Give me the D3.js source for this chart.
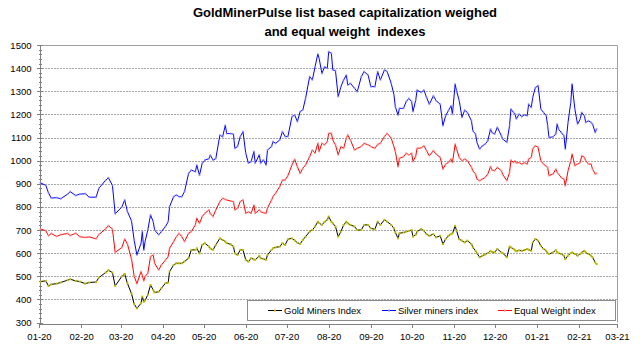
<!DOCTYPE html>
<html>
<head>
<meta charset="utf-8">
<script src="https://cdn.jsdelivr.net/npm/d3@7"></script>
<style>
  body { margin: 0; background: #fff; }
  svg { display: block; font-family: "Liberation Sans", Arial, sans-serif; }
  .axis path, .axis line { stroke: #808080; shape-rendering: crispEdges; }
  .axis text { fill: #000; font-size: 9.5px; }
</style>
</head>
<body>
<div id="chart"></div>
<script>
// daily-ish readings (yy-mm-dd)
var dateLabels = [
  "20-01-02","20-01-06","20-01-08","20-01-10","20-01-14","20-01-17","20-01-22","20-01-24","20-01-28","20-01-31",
  "20-02-04","20-02-07","20-02-12","20-02-14","20-02-19","20-02-21","20-02-24","20-02-26","20-03-02","20-03-04",
  "20-03-06","20-03-09","20-03-11","20-03-13","20-03-16","20-03-17","20-03-18","20-03-19","20-03-21","20-03-23",
  "20-03-25","20-03-26","20-03-29","20-03-31","20-04-03","20-04-05","20-04-06","20-04-09","20-04-11","20-04-13",
  "20-04-15","20-04-17","20-04-20","20-04-22","20-04-25","20-04-26","20-04-28","20-04-30","20-05-02","20-05-05",
  "20-05-06","20-05-08","20-05-10","20-05-13","20-05-15","20-05-17","20-05-18","20-05-21","20-05-23","20-05-24",
  "20-05-26","20-05-28","20-05-30","20-06-01","20-06-03","20-06-05","20-06-07","20-06-08","20-06-11","20-06-12",
  "20-06-14","20-06-16","20-06-17","20-06-20","20-06-21","20-06-23","20-06-26","20-06-28","20-06-30","20-07-02",
  "20-07-05","20-07-07","20-07-09","20-07-11","20-07-13","20-07-15","20-07-18","20-07-20","20-07-22","20-07-24",
  "20-07-25","20-07-27","20-07-29","20-07-31","20-08-01","20-08-03","20-08-04","20-08-06","20-08-08","20-08-10",
  "20-08-12","20-08-14","20-08-15","20-08-17","20-08-20","20-08-22","20-08-25","20-08-27","20-08-30","20-09-01",
  "20-09-04","20-09-06","20-09-08","20-09-11","20-09-13","20-09-16","20-09-18","20-09-19","20-09-21","20-09-22",
  "20-09-25","20-09-27","20-09-29","20-10-01","20-10-02","20-10-04","20-10-05","20-10-08","20-10-10","20-10-12",
  "20-10-14","20-10-17","20-10-19","20-10-22","20-10-24","20-10-26","20-10-28","20-10-30","20-10-31","20-11-02",
  "20-11-03","20-11-05","20-11-07","20-11-09","20-11-11","20-11-14","20-11-15","20-11-17","20-11-18","20-11-20",
  "20-11-22","20-11-24","20-11-26","20-11-28","20-11-29","20-12-01","20-12-03","20-12-06","20-12-07","20-12-10",
  "20-12-12","20-12-13","20-12-15","20-12-16","20-12-17","20-12-19","20-12-21","20-12-23","20-12-25","20-12-26",
  "20-12-28","20-12-29","20-12-31","21-01-02","21-01-04","21-01-06","21-01-08","21-01-09","21-01-10","21-01-13",
  "21-01-15","21-01-16","21-01-17","21-01-19","21-01-21","21-01-22","21-01-24","21-01-26","21-01-27","21-01-29",
  "21-01-31","21-02-02","21-02-03","21-02-05","21-02-06","21-02-08","21-02-10","21-02-11","21-02-13","21-02-14"
];

var goldIndex = [
  477,480,458,465,468,473,483,487,480,477,
  468,473,475,494,516,526,516,458,500,510,
  470,425,380,361,383,412,390,395,420,462,
  441,430,433,448,470,472,520,549,556,556,
  556,564,578,614,614,621,599,636,643,628,
  620,614,636,664,657,650,643,638,628,599,
  592,614,614,571,563,578,573,571,588,578,
  575,571,592,614,621,625,628,643,635,660,
  664,655,645,640,657,671,693,700,715,736,
  730,722,735,744,758,736,729,715,671,693,
  722,736,729,722,715,700,700,722,722,707,
  703,736,722,744,736,722,707,690,664,686,
  689,693,696,700,671,680,693,704,697,682,
  675,682,668,675,639,661,675,682,685,718,
  697,660,654,646,654,639,625,610,600,582,
  589,594,600,610,605,603,618,603,600,582,
  628,625,618,612,608,612,610,613,618,615,
  610,646,661,654,632,618,610,599,596,603,
  613,605,600,596,589,574,589,600,603,596,
  589,596,603,610,603,596,589,582,560,553
];

var silverIndex = [
  904,893,860,838,840,835,855,866,849,855,
  857,842,842,880,915,926,893,770,800,830,
  780,740,655,592,642,693,613,650,700,765,
  736,700,679,693,715,736,801,844,851,844,
  844,866,945,959,952,981,937,988,1002,1009,
  1024,1002,1009,1110,1103,1153,1117,1117,1114,1053,
  1061,1104,1125,1032,989,996,1039,989,1025,989,
  1003,981,1046,1061,1082,1075,1089,1125,1104,1104,
  1190,1197,1169,1212,1219,1269,1363,1349,1406,1461,
  1442,1377,1406,1399,1471,1464,1392,1389,1277,1320,
  1349,1370,1327,1334,1313,1298,1363,1385,1370,1320,
  1320,1385,1349,1392,1385,1334,1284,1233,1197,1226,
  1226,1255,1269,1255,1212,1262,1305,1295,1305,1273,
  1244,1280,1259,1244,1151,1194,1216,1237,1201,1331,
  1302,1259,1187,1218,1208,1172,1129,1115,1079,1050,
  1064,1071,1086,1136,1122,1115,1144,1107,1093,1079,
  1151,1223,1208,1201,1180,1201,1190,1198,1194,1244,
  1230,1273,1316,1324,1223,1208,1194,1151,1100,1103,
  1115,1158,1136,1122,1107,1050,1165,1252,1331,1223,
  1158,1180,1208,1194,1165,1172,1165,1158,1122,1136
];

var equalIndex = [
  704,697,675,685,672,680,685,676,686,671,
  668,670,662,680,705,719,704,603,625,661,
  640,575,500,468,520,505,480,499,513,585,
  592,556,527,549,570,585,621,650,671,686,
  671,650,686,693,722,751,729,758,772,787,
  770,758,787,823,837,832,830,825,823,787,
  794,823,830,772,779,772,808,772,787,779,
  775,772,795,830,844,859,888,916,916,935,
  981,1006,974,945,967,981,1017,1046,1032,1075,
  1039,1075,1068,1082,1118,1118,1089,1068,1025,1061,
  1053,1097,1111,1089,1046,1053,1061,1075,1068,1061,
  1053,1070,1075,1104,1118,1097,1060,1040,974,1010,
  1017,1032,1025,1032,996,1020,1053,1055,1064,1043,
  1021,1043,1028,1014,963,985,992,1007,992,1071,
  1050,1014,999,1007,999,971,956,942,920,913,
  920,927,942,974,960,956,971,956,940,913,
  949,1002,992,999,990,992,985,992,985,1007,
  1014,1050,1064,1057,999,985,975,971,935,942,
  963,950,942,927,920,891,956,999,1028,978,
  985,992,1021,1014,999,985,985,963,942,945
];

var yTickValues = [300,400,500,600,700,800,900,1000,1100,1200,1300,1400,1500];
var seriesNames = ["Gold Miners Index", "Silver miners index", "Equal Weight index"];
var titleLines = ["GoldMinerPulse list based capitalization weighed", "and equal weight  indexes"];

var width = 640, height = 352;
var plotLeft = 39, plotRight = 617, plotTop = 45, plotBottom = 322.5;

var parseDate = d3.timeParse("%y-%m-%d");
var dates = dateLabels.map(parseDate);

var x = d3.scaleTime()
    .domain([new Date(2020, 0, 1), new Date(2021, 2, 1)])
    .range([plotLeft, plotRight]);
var y = d3.scaleLinear()
    .domain([300, 1500])
    .range([plotBottom, plotTop]);

var svg = d3.select("#chart").append("svg")
    .attr("width", width)
    .attr("height", height);

// title
svg.append("text")
    .attr("text-anchor", "middle")
    .attr("xml:space", "preserve")
    .style("font-size", "13px")
    .style("font-weight", "bold")
    .selectAll("tspan")
    .data(titleLines)
    .join("tspan")
        .attr("x", 345)
        .attr("y", (d, i) => 17 + i * 19)
        .text(d => d);

// gridlines
svg.append("g")
    .selectAll("line")
    .data(yTickValues.filter(v => v > 300 && v < 1500))
    .join("line")
        .attr("x1", plotLeft).attr("x2", plotRight)
        .attr("y1", d => Math.round(y(d)) + 0.5)
        .attr("y2", d => Math.round(y(d)) + 0.5)
        .attr("stroke", "#a6a6a6")
        .attr("stroke-dasharray", "2,1");

// plot border (top / right)
svg.append("path")
    .attr("d", "M" + plotLeft + "," + (plotTop + 0.5) + "H" + (plotRight + 0.5) + "V" + plotBottom)
    .attr("fill", "none")
    .attr("stroke", "#a0a0a0");

// minor ticks on y axis
svg.append("g")
    .selectAll("line")
    .data(d3.range(300, 1501, 20).filter(v => v % 100 != 0))
    .join("line")
        .attr("x1", plotLeft).attr("x2", plotLeft + 3)
        .attr("y1", d => Math.round(y(d)) + 0.5)
        .attr("y2", d => Math.round(y(d)) + 0.5)
        .attr("stroke", "#808080");

// y axis
var yAxis = svg.append("g")
    .attr("class", "axis")
    .attr("transform", "translate(" + (plotLeft + 0.5) + ",0)")
    .call(d3.axisLeft(y).tickValues(yTickValues).tickFormat(d3.format("d"))
        .tickSize(3).tickPadding(5).tickSizeOuter(0));
yAxis.selectAll(".tick line").attr("x2", 3).attr("x1", -3);

// x axis
var xAxis = svg.append("g")
    .attr("class", "axis")
    .attr("transform", "translate(0," + (Math.round(plotBottom) + 0.5) + ")")
    .call(d3.axisBottom(x)
        .tickValues(d3.timeMonth.range(new Date(2020, 0, 1), new Date(2021, 2, 2)))
        .tickFormat(d3.timeFormat("%m-%y"))
        .tickSize(4).tickPadding(6).tickSizeOuter(0));

// series
var series = [
    {name: seriesNames[0], values: goldIndex,   line: "#000000", marker: "#bebe00"},
    {name: seriesNames[1], values: silverIndex, line: "#0000ff", marker: "#8c8cff"},
    {name: seriesNames[2], values: equalIndex,  line: "#ff0000", marker: "#ff8c8c"}
];

var line = d3.line()
    .x((d, i) => x(dates[i]))
    .y(d => y(d));

series.slice().reverse().forEach(function(s) {
    var g = svg.append("g");
    g.append("path")
        .attr("d", line(s.values))
        .attr("fill", "none")
        .attr("stroke", s.line)
        .attr("stroke-width", 1);
    if (s.line == "#000000") {
        g.selectAll("rect")
            .data(s.values)
            .join("rect")
                .attr("x", (d, i) => x(dates[i]) - 1)
                .attr("y", d => y(d) - 1)
                .attr("width", 2).attr("height", 2)
                .attr("fill", s.marker);
    } else {
        g.selectAll("circle")
            .data(s.values)
            .join("circle")
                .attr("cx", (d, i) => x(dates[i]))
                .attr("cy", d => y(d))
                .attr("r", 1.1)
                .attr("fill", s.marker)
                .attr("opacity", 0.7);
    }
});

// legend
var legend = svg.append("g");
legend.append("rect")
    .attr("x", 247.5).attr("y", 300.5)
    .attr("width", 368).attr("height", 20)
    .attr("fill", "#fff")
    .attr("stroke", "#8c8c8c");
var legendX = [268, 382, 498];
series.forEach(function(s, i) {
    var lg = legend.append("g").attr("transform", "translate(" + legendX[i] + ",310.5)");
    lg.append("line").attr("x1", 0).attr("x2", 14).attr("stroke", s.line);
    lg.append("rect").attr("x", 6).attr("y", -1).attr("width", 2).attr("height", 2)
        .attr("fill", s.marker);
    lg.append("text")
        .attr("x", 16).attr("y", 3.5)
        .style("font-size", "9.5px")
        .text(s.name);
});
</script>
</body>
</html>
